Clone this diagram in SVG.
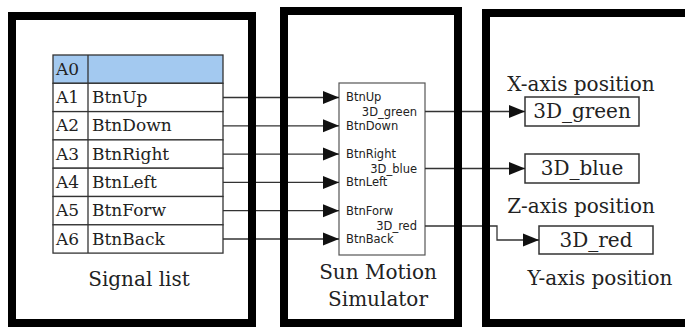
<svg xmlns="http://www.w3.org/2000/svg" width="685" height="327" viewBox="0 0 685 327">
<defs>
<style>
.panel{fill:#fff;stroke:#000;stroke-width:8}
.cell{fill:#fff;stroke:#333;stroke-width:1.3}
.hdr{fill:#a3c9f0;stroke:#333;stroke-width:1.3}
.serif{font-family:"DejaVu Serif","Liberation Serif",serif;fill:#222}
.tbl{font-size:17px}
.cap{font-size:20px}
.small{font-family:"DejaVu Sans","Liberation Sans",sans-serif;font-size:11.5px;fill:#222}
.blk{fill:#fff;stroke:#555;stroke-width:1.2}
.obox{fill:#fff;stroke:#333;stroke-width:1.5}
.wire{fill:none;stroke:#333;stroke-width:1.3}
</style>
<marker id="ah" markerUnits="userSpaceOnUse" viewBox="0 0 16 14" markerWidth="16" markerHeight="14" refX="16" refY="7" orient="auto" overflow="visible">
<path d="M0,0.5 L16,7 L0,13.5 z" fill="#111"/>
</marker>
</defs>
<rect width="685" height="327" fill="#fff"/>

<g id="panel-signals">
<rect class="panel" x="12" y="16" width="240" height="307"/>
<rect class="hdr" x="53" y="55" width="170" height="28.3"/>
<rect class="cell" x="53" y="83.3" width="170" height="28.3"/>
<rect class="cell" x="53" y="111.6" width="170" height="28.3"/>
<rect class="cell" x="53" y="139.9" width="170" height="28.3"/>
<rect class="cell" x="53" y="168.2" width="170" height="28.3"/>
<rect class="cell" x="53" y="196.5" width="170" height="28.3"/>
<rect class="cell" x="53" y="224.8" width="170" height="28.3"/>
<line x1="88" y1="55" x2="88" y2="253.1" stroke="#333" stroke-width="1.3"/>
<g class="serif tbl">
<text x="56" y="75">A0</text>
<text x="56" y="103">A1</text><text x="92" y="103">BtnUp</text>
<text x="56" y="131">A2</text><text x="92" y="131">BtnDown</text>
<text x="56" y="160">A3</text><text x="92" y="160">BtnRight</text>
<text x="56" y="188">A4</text><text x="92" y="188">BtnLeft</text>
<text x="56" y="216">A5</text><text x="92" y="216">BtnForw</text>
<text x="56" y="245">A6</text><text x="92" y="245">BtnBack</text>
</g>
<text class="serif cap" x="139" y="286" text-anchor="middle">Signal list</text>
</g>

<g id="panel-simulator">
<rect class="panel" x="284" y="11" width="174" height="312"/>
<rect class="blk" x="339" y="83" width="86" height="172"/>
<g class="small">
<text x="346" y="101">BtnUp</text>
<text x="417" y="116" text-anchor="end">3D_green</text>
<text x="346" y="130">BtnDown</text>
<text x="346" y="158">BtnRight</text>
<text x="417" y="173" text-anchor="end">3D_blue</text>
<text x="346" y="186">BtnLeft</text>
<text x="346" y="215">BtnForw</text>
<text x="417" y="230" text-anchor="end">3D_red</text>
<text x="346" y="243">BtnBack</text>
</g>
<text class="serif cap" x="378" y="279" text-anchor="middle">Sun Motion</text>
<text class="serif cap" x="378" y="306" text-anchor="middle">Simulator</text>
</g>

<g id="panel-outputs">
<rect class="panel" x="486" y="13" width="210" height="310"/>
<text class="serif cap" x="581" y="91" text-anchor="middle">X-axis position</text>
<text class="serif cap" x="581" y="213" text-anchor="middle">Z-axis position</text>
<text class="serif cap" x="600" y="285" text-anchor="middle">Y-axis position</text>
</g>

<g id="out-green">
<rect class="obox" x="525" y="97" width="114" height="29"/>
<text class="serif cap" x="582" y="118" text-anchor="middle">3D_green</text>
</g>
<g id="out-blue">
<rect class="obox" x="525" y="154" width="114" height="29"/>
<text class="serif cap" x="582" y="175" text-anchor="middle">3D_blue</text>
</g>
<g id="out-red">
<rect class="obox" x="539" y="226" width="114" height="28"/>
<text class="serif cap" x="596" y="247" text-anchor="middle">3D_red</text>
</g>

<g id="connectors">
<line class="wire" x1="223" y1="97.5" x2="339" y2="97.5" marker-end="url(#ah)"/>
<line class="wire" x1="223" y1="125.8" x2="339" y2="125.8" marker-end="url(#ah)"/>
<line class="wire" x1="223" y1="154.1" x2="339" y2="154.1" marker-end="url(#ah)"/>
<line class="wire" x1="223" y1="182.4" x2="339" y2="182.4" marker-end="url(#ah)"/>
<line class="wire" x1="223" y1="210.7" x2="339" y2="210.7" marker-end="url(#ah)"/>
<line class="wire" x1="223" y1="239" x2="339" y2="239" marker-end="url(#ah)"/>
<line class="wire" x1="425" y1="111.5" x2="525" y2="111.5" marker-end="url(#ah)"/>
<line class="wire" x1="425" y1="168.5" x2="525" y2="168.5" marker-end="url(#ah)"/>
<polyline class="wire" points="425,226 497,226 497,240 539,240" marker-end="url(#ah)"/>
</g>
<g id="borders-over" fill="none" stroke="#000" stroke-width="8">
<line x1="252" y1="12" x2="252" y2="327"/>
<line x1="284" y1="7" x2="284" y2="327"/>
<line x1="458" y1="7" x2="458" y2="327"/>
<line x1="486" y1="9" x2="486" y2="327"/>
</g>
</svg>
